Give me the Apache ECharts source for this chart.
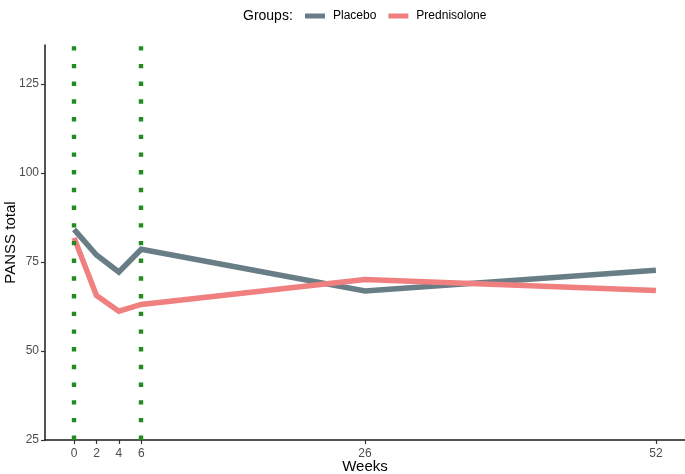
<!DOCTYPE html>
<html>
<head>
<meta charset="utf-8">
<script src="https://cdn.jsdelivr.net/npm/echarts@6/dist/echarts.min.js"></script>
<style>html,body{margin:0;padding:0;background:#fff;}#c{width:685px;height:474px;}</style>
</head>
<body>
<div id="c"></div>
<script>
const weeks = [0, 2, 4, 6, 26, 52];
const placebo = [84.2, 77.0, 72.2, 78.6, 66.9, 72.7];
const prednisolone = [81.8, 65.6, 61.2, 63.1, 70.1, 67.0];
const xTicks = [0, 2, 4, 6, 26, 52];
const yTicks = [25, 50, 75, 100, 125];
const vLines = [0, 6];
const groupNames = ['Placebo', 'Prednisolone'];

const pair = (xs, ys) => xs.map((x, i) => [x, ys[i]]);
const font = 'Liberation Sans, Arial, Helvetica, sans-serif';

const chart = echarts.init(document.getElementById('c'), null, {renderer: 'canvas'});
chart.setOption({
  animation: false,
  backgroundColor: '#ffffff',
  title: {
    text: 'Groups:', left: 238, top: 4,
    textStyle: {fontSize: 14, fontWeight: 'normal', color: '#000', fontFamily: font}
  },
  legend: {
    data: groupNames, left: 300, top: 5, icon: 'rect',
    itemWidth: 20, itemHeight: 5, itemGap: 12,
    textStyle: {fontSize: 12, color: '#000', fontFamily: font, padding: [0, 0, 0, 3]}
  },
  grid: {left: 45, right: 0, top: 45, bottom: 34, containLabel: false, outerBoundsMode: 'none'},
  xAxis: {
    type: 'value', min: -2.6, max: 54.6,
    name: 'Weeks', nameLocation: 'middle', nameGap: 19, nameMoveOverlap: false,
    nameTextStyle: {fontSize: 15, color: '#000', fontFamily: font},
    axisLine: {show: true, onZero: false, lineStyle: {color: '#1a1a1a', width: 1.5}},
    axisTick: {show: true, length: 4, customValues: xTicks, lineStyle: {color: '#333', width: 1.2}},
    axisLabel: {customValues: xTicks, fontSize: 12, color: '#4d4d4d', margin: 8, fontFamily: font},
    splitLine: {show: false}
  },
  yAxis: {
    type: 'value', min: 25, max: 136,
    name: 'PANSS total', nameLocation: 'middle', nameGap: 27, nameRotate: 90, nameMoveOverlap: false,
    nameTextStyle: {fontSize: 15, color: '#000', fontFamily: font},
    axisLine: {show: true, onZero: false, lineStyle: {color: '#1a1a1a', width: 1.5}},
    axisTick: {show: true, length: 4, customValues: yTicks, lineStyle: {color: '#333', width: 1.2}},
    axisLabel: {customValues: yTicks, fontSize: 12, color: '#4d4d4d', margin: 6, fontFamily: font},
    splitLine: {show: false}
  },
  series: [
    {
      name: groupNames[0], type: 'line', data: pair(weeks, placebo),
      showSymbol: false, symbol: 'none', color: '#687d86',
      lineStyle: {width: 5.5, color: '#687d86', cap: 'butt', join: 'miter'}, z: 2
    },
    {
      name: groupNames[1], type: 'line', data: pair(weeks, prednisolone),
      showSymbol: false, symbol: 'none', color: '#f08080',
      lineStyle: {width: 5.5, color: '#f08080', cap: 'butt', join: 'miter'}, z: 3
    },
    {
      name: 'vlines', type: 'line', data: [], z: 4,
      markLine: {
        silent: true, symbol: ['none', 'none'], label: {show: false},
        lineStyle: {color: '#228b22', width: 4.4, type: [4.4, 13.3], cap: 'butt'},
        data: vLines.map(v => ({xAxis: v}))
      }
    }
  ]
});
</script>
</body>
</html>
